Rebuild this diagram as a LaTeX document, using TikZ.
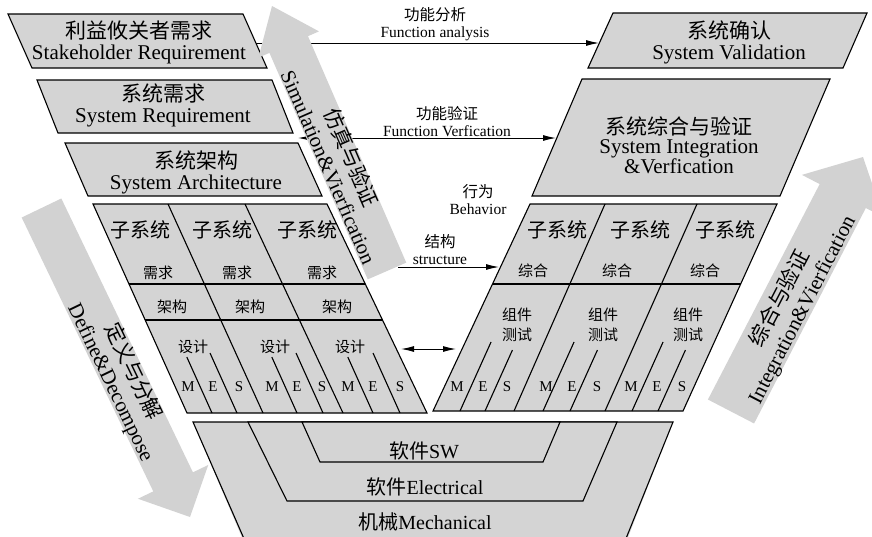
\documentclass[tikz,border=0pt]{standalone}
\usepackage{fontspec}
\setmainfont{Liberation Serif}
\newfontfamily\cjk{Noto Sans CJK SC}
\usetikzlibrary{calc,arrows.meta}
\definecolor{boxgray}{RGB}{212,212,212}
\definecolor{arrowgray}{RGB}{210,210,210}
\newcommand{\grayarrow}[5]{%
  \coordinate (GAh) at ($(#2)!#5!(#1)$);
  \fill[garrow] ($(#1)!#3!90:(#2)$) -- ($(GAh)!#3!90:(#2)$) -- ($(GAh)!#4!90:(#2)$) -- (#2)
    -- ($(GAh)!#4!-90:(#2)$) -- ($(GAh)!#3!-90:(#2)$) -- ($(#1)!#3!-90:(#2)$) -- cycle;
}
\begin{document}
\begin{tikzpicture}[x=1pt,y=-1pt,
  gbox/.style={fill=boxgray,draw=black,line width=1.1pt,line join=miter},
  gline/.style={draw=black,line width=1.1pt},
  garrow/.style={fill=arrowgray,draw=none},
  conn/.style={line width=1pt,-{Latex[length=13pt,width=6pt]}},
  dconn/.style={line width=1pt,{Latex[length=13pt,width=6pt]}-{Latex[length=13pt,width=6pt]}},
  bigtxt/.style={align=center,font=\fontsize{21}{21}\selectfont,inner sep=0pt},
  subtxt/.style={font=\cjk\fontsize{20}{22}\selectfont,inner sep=0pt},
  smalltxt/.style={font=\cjk\fontsize{15}{20}\selectfont,inner sep=0pt,align=center},
  mestxt/.style={font=\fontsize{15}{18}\selectfont,inner sep=0pt},
  lbl/.style={align=center,font=\fontsize{15.5}{17}\selectfont,inner sep=0pt},
  arrtxt/.style={align=center,font=\fontsize{21}{24.5}\selectfont,inner sep=0pt},
  bottxt/.style={font=\fontsize{20}{22}\selectfont,inner sep=0pt}]
\useasboundingbox (0,0) rectangle (872,536);

% ---- top left boxes
\draw[gbox] (8,14) -- (243,14) -- (267,68) -- (32,68) -- cycle;
\draw[gbox] (37,80) -- (272,80) -- (293,133) -- (58,133) -- cycle;
\draw[gbox] (65,143) -- (298,143) -- (322,196) -- (88,196) -- cycle;
% ---- top right boxes
\draw[gbox] (613,13) -- (867,13) -- (843,68) -- (588,68) -- cycle;
\draw[gbox] (582,79) -- (830,79) -- (780,196) -- (532,196) -- cycle;

% ---- left block
\draw[gbox] (93,204) -- (327,204) -- (427,413) -- (187,413) -- cycle;
\draw[gline] (129,284) -- (365.3,284);
\draw[gline] (145.2,320) -- (382.5,320);
\draw[gline] (168,204) -- (263,413);
\draw[gline] (245,204) -- (343,413);
\foreach \b/\t in {212/357,237/353,297/357,323/353,373/357,400/353}
  \draw[gline] (\b,413) -- ({\b-0.45*(413-\t)},\t);

% ---- right block
\draw[gbox] (530,204) -- (777,204) -- (683,411) -- (433,411) -- cycle;
\draw[gline] (492.5,284) -- (740.7,284);
\draw[gline] (605,204) -- (514,411);
\draw[gline] (697,204) -- (605,411);
\foreach \b/\t in {460/342,485/350,543/342,570/350,632/342,658/350}
  \draw[gline] (\b,411) -- ({\b+0.45*(411-\t)},\t);

% ---- bottom layers
\fill[boxgray] (193,422) -- (673,422) -- (627,540) -- (243,540) -- cycle;
\draw[gline,line join=miter] (245,541) -- (193,422) -- (673,422) -- (625,541);
\draw[gbox] (248,422) -- (617,422) -- (583,501) -- (287,501) -- cycle;
\draw[gbox] (302,422) -- (560,422) -- (543,462) -- (320,462) -- cycle;

% ---- connectors
\coordinate (faL) at (256,43);
\coordinate (faR) at (599,43);
\draw[conn] (faL) -- (faR);
\coordinate (fvL) at (298,138);
\coordinate (fvR) at (556,138);
\draw[dconn] (fvL) -- (fvR);
\coordinate (stL) at (398,267);
\coordinate (stR) at (499,267);
\draw[conn] (stL) -- (stR);
\coordinate (mdL) at (401,349);
\coordinate (mdR) at (456,349);
\draw[dconn] (mdL) -- (mdR);

% ---- gray arrows
\coordinate (simB) at (387,271); \coordinate (simT) at (272,6);
\grayarrow{simB}{simT}{21pt}{33pt}{42pt}
\coordinate (defB) at (41.5,208); \coordinate (defT) at (190,517);
\grayarrow{defB}{defT}{22pt}{39pt}{39pt}
\coordinate (intB) at (731,411.5); \coordinate (intT) at (863,157);
\grayarrow{intB}{intT}{26pt}{46pt}{44pt}

\node[arrtxt,rotate=-66.5] (simtxt) at (341,162) {{\cjk 仿真与验证}\\Simulation\&Vierfication};
\node[arrtxt,rotate=-64.3] (deftxt) at (122,377) {{\cjk 定义与分解}\\Define\&Decompose};
\node[arrtxt,rotate=62.6] (inttxt) at (791,304) {{\cjk 综合与验证}\\Integration\&Vierfication};

% ---- box texts
\node[bigtxt] (b1) at (139,42) {{\cjk 利益攸关者需求}\\Stakeholder Requirement};
\node[bigtxt] (b2) at (163,105) {{\cjk 系统需求}\\System Requirement};
\node[bigtxt] (b3) at (196,172) {{\cjk 系统架构}\\System Architecture};
\node[bigtxt] (b4) at (729,42) {{\cjk 系统确认}\\System Validation};
\node[bigtxt,font=\fontsize{21}{19}\selectfont] (b5) at (679,145) {{\cjk 系统综合与验证}\\System Integration\\\&Verfication};

% ---- connector labels
\node[lbl] (l1) at (435,24) {{\cjk 功能分析}\\Function analysis};
\node[lbl] (l2) at (447,122) {{\cjk 功能验证}\\Function Verfication};
\node[lbl] (l3) at (478,200) {{\cjk 行为}\\Behavior};
\node[lbl] (l4) at (440,250) {{\cjk 结构}\\structure};

% ---- left block texts
\node[subtxt] (ls1) at (140,230) {子系统};
\node[subtxt] (ls2) at (222,230) {子系统};
\node[subtxt] (ls3) at (307,230) {子系统};
\node[smalltxt] (lr1) at (158,273) {需求};
\node[smalltxt] (lr2) at (237,273) {需求};
\node[smalltxt] (lr3) at (322,273) {需求};
\node[smalltxt] (la1) at (172,307) {架构};
\node[smalltxt] (la2) at (250,307) {架构};
\node[smalltxt] (la3) at (337,307) {架构};
\node[smalltxt] (ld1) at (193,347) {设计};
\node[smalltxt] (ld2) at (275,347) {设计};
\node[smalltxt] (ld3) at (350,347) {设计};
\foreach \x/\s [count=\i] in {188/M,213/E,239/S,272/M,297/E,322/S,348/M,373/E,400/S}
  \node[mestxt] (lm\i) at (\x,387) {\s};

% ---- right block texts
\node[subtxt] (rs1) at (557,230) {子系统};
\node[subtxt] (rs2) at (640,230) {子系统};
\node[subtxt] (rs3) at (725,230) {子系统};
\node[smalltxt] (rz1) at (533,271) {综合};
\node[smalltxt] (rz2) at (617,271) {综合};
\node[smalltxt] (rz3) at (705,271) {综合};
\node[smalltxt] (rc1) at (517,325) {组件\\测试};
\node[smalltxt] (rc2) at (603,325) {组件\\测试};
\node[smalltxt] (rc3) at (688,325) {组件\\测试};
\foreach \x/\s [count=\i] in {457/M,483/E,507/S,546/M,572/E,597/S,631/M,657/E,682/S}
  \node[mestxt] (rm\i) at (\x,387) {\s};

% ---- bottom texts
\node[bottxt] (sw) at (424,451) {{\cjk 软件}SW};
\node[bottxt] (el) at (425,487) {{\cjk 软件}Electrical};
\node[bottxt] (me) at (425,522) {{\cjk 机械}Mechanical};
\end{tikzpicture}
\end{document}
